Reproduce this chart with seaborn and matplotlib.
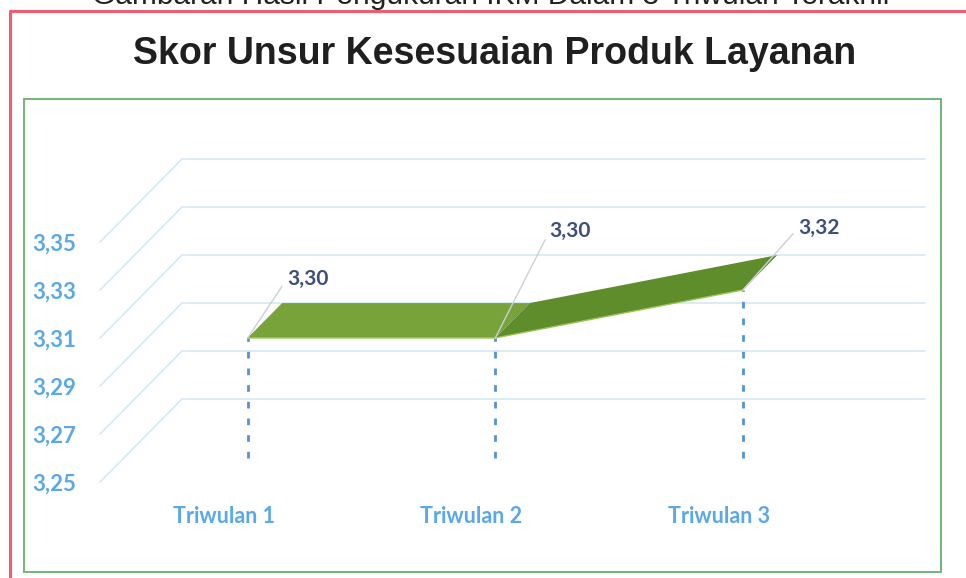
import numpy as np
import pandas as pd
import matplotlib
matplotlib.use("Agg")
import matplotlib.pyplot as plt
import seaborn as sns
from matplotlib.lines import Line2D
from matplotlib.patches import Rectangle, Polygon

# ---- data ----
categories = ["Triwulan 1", "Triwulan 2", "Triwulan 3"]
scores = [3.30, 3.30, 3.32]
score_labels = ["3,30", "3,30", "3,32"]
y_ticks = [3.25, 3.27, 3.29, 3.31, 3.33, 3.35]
y_tick_labels = ["3,25", "3,27", "3,29", "3,31", "3,33", "3,35"]
title = "Skor Unsur Kesesuaian Produk Layanan"
page_heading = "Gambaran Hasil Pengukuran IKM Dalam 3 Triwulan Terakhir"

# ---- layout / style ----
W, H = 966, 578
label_offsets_px = [(60, -59), (75, -107), (76, -62)]
segment_colors = ["#77a33a", "#5f8d2c"]

sns.set_theme(style="white")
plt.rcParams["font.family"] = ["Lato", "DejaVu Sans"]

fig = plt.figure(figsize=(W / 100, H / 100), dpi=100)
fig.patch.set_facecolor("white")


def fx(px):
    return px / W


def fy(py):
    return 1 - py / H


# page decorations (red frame, heading, green chart frame)
fig.add_artist(Line2D([fx(10), fx(966)], [fy(11), fy(11)], color="#ef5d72", lw=2.2))
fig.add_artist(Line2D([fx(10), fx(10)], [fy(11), fy(578)], color="#ef5d72", lw=2.2))
fig.text(fx(492), fy(4), page_heading, ha="center", va="baseline",
         fontsize=21.5, family="Liberation Sans", color="#222222")
fig.add_artist(Rectangle((fx(24), fy(572)), fx(941) - fx(24), fy(99) - fy(572),
                         fill=False, edgecolor="#72b676", lw=1.4,
                         transform=fig.transFigure))
fig.text(fx(495), fy(64), title, ha="center", va="baseline", fontsize=27,
         fontweight="bold", family="Liberation Sans", color="#1f1f1f")

# chart axes (front plane)
ax = fig.add_axes([fx(100), fy(482), 743 / W, 240 / H])
ax.set_xlim(-0.5, 2.5)
ax.set_ylim(3.25, 3.35)
ax.set_facecolor("none")
for s in ax.spines.values():
    s.set_visible(False)

x = np.arange(len(categories), dtype=float)
v = np.array(scores)
DX = 82 / 743 * 3          # depth offset in category units
DY = 83 / 2400             # depth offset in value units
f0, f1 = 0.29, 0.71        # ribbon front/back depth

grid_c = "#cfe8f3"
for t in y_ticks:
    ax.plot([-0.5 + DX, 2.5 + DX], [t + DY, t + DY], color=grid_c, lw=1.1,
            clip_on=False, zorder=1)
    ax.plot([-0.5, -0.5 + DX], [t, t + DY], color=grid_c, lw=1.1,
            clip_on=False, zorder=1)

# drop lines
xf = x + f0 * DX
yf = v + f0 * DY
ax.vlines(xf, 3.25 + f0 * DY, yf, colors="#5592dc", lw=2.0,
          linestyles=(0, (2.4, 3.6)), zorder=2)

# ribbon
for i in range(len(x) - 1):
    poly = [(x[i] + f0 * DX, v[i] + f0 * DY),
            (x[i + 1] + f0 * DX, v[i + 1] + f0 * DY),
            (x[i + 1] + f1 * DX, v[i + 1] + f1 * DY),
            (x[i] + f1 * DX, v[i] + f1 * DY)]
    ax.add_patch(Polygon(poly, closed=True, facecolor=segment_colors[i],
                         edgecolor="none", zorder=3, clip_on=False))

df = pd.DataFrame({"x": xf, "y": yf})
sns.lineplot(data=df, x="x", y="y", color="#9cc452", lw=1.0, ax=ax, zorder=4)

# data labels with leader lines
for i in range(len(x)):
    ox, oy = label_offsets_px[i]
    ax.annotate(score_labels[i], xy=(xf[i], yf[i]),
                xytext=(ox * 0.72, -oy * 0.72), textcoords="offset points",
                ha="center", va="center", fontsize=15, fontweight="bold",
                color="#3e4f7c", zorder=6, annotation_clip=False,
                arrowprops=dict(arrowstyle="-", color="#c9d1d8", lw=1.0,
                                relpos=(0, 0.5), shrinkA=2, shrinkB=0))

ax.set_xticks(x)
ax.set_xticklabels(categories)
ax.set_yticks(y_ticks)
ax.set_yticklabels(y_tick_labels)
ax.tick_params(axis="x", length=0, pad=17, labelsize=15.5, labelcolor="#5aa8ea")
ax.tick_params(axis="y", length=0, pad=17, labelsize=16, labelcolor="#5aa8ea")
for lab in ax.get_xticklabels() + ax.get_yticklabels():
    lab.set_fontweight("bold")
ax.set_xlabel("")
ax.set_ylabel("")
ax.grid(False)

fig.savefig("out.png", dpi=100, facecolor="white")
